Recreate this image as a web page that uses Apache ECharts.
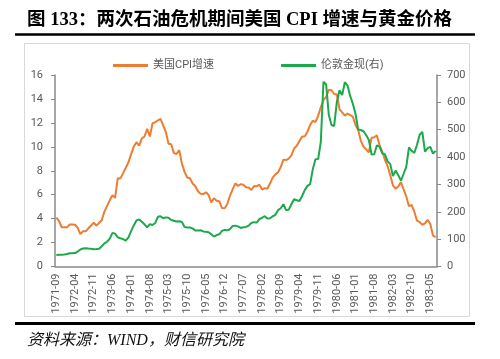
<!DOCTYPE html>
<html>
<head>
<meta charset="utf-8">
<script src="https://cdn.jsdelivr.net/npm/echarts@6/dist/echarts.min.js"></script>
<style>
html,body{margin:0;padding:0;background:#fff;}
#c{width:500px;height:359px;}
</style>
</head>
<body>
<div id="c"></div>
<script>
// Categories: monthly, 1971-09 to 1983-07
const startYear = 1971, startMonth = 9, monthCount = 143;
const categories = [];
for (let i = 0; i < monthCount; i++) {
  const m = startMonth - 1 + i;
  const y = startYear + Math.floor(m / 12);
  const mm = (m % 12) + 1;
  categories.push(y + '-' + (mm < 10 ? '0' + mm : mm));
}

// 美国CPI增速 (%), left axis
const cpi = [
  4.08, 3.8, 3.28, 3.27,
  3.27, 3.51, 3.5, 3.49, 3.23, 2.71, 2.95, 2.94, 3.19, 3.42, 3.67, 3.41,
  3.65, 3.87, 4.59, 5.06, 5.53, 5.96, 5.73, 7.38, 7.36, 7.8, 8.25, 8.71,
  9.39, 10.02, 10.39, 10.09, 10.71, 10.86, 11.51, 10.86, 11.95, 12.06, 12.2, 12.34,
  11.8, 11.23, 10.25, 10.21, 9.47, 9.4, 9.72, 8.6, 7.91, 7.44, 7.38, 6.94,
  6.72, 6.29, 6.07, 6.05, 6.2, 5.97, 5.35, 5.71, 5.49, 5.46, 4.88, 4.86,
  5.22, 5.91, 6.44, 6.95, 6.73, 6.87, 6.83, 6.62, 6.6, 6.39, 6.72, 6.7,
  6.84, 6.43, 6.55, 6.5, 6.95, 7.42, 7.7, 7.86, 8.31, 8.93, 8.89, 9.02,
  9.28, 9.86, 10.09, 10.49, 10.85, 10.89, 11.26, 11.82, 12.18, 12.07, 12.61, 13.29,
  13.91, 14.18, 14.76, 14.73, 14.41, 14.38, 13.13, 12.87, 12.6, 12.77, 12.65, 12.52,
  11.83, 11.41, 10.49, 10.0, 9.78, 9.55, 10.76, 10.8, 10.95, 10.14, 9.59, 8.92,
  8.39, 7.62, 6.78, 6.51, 6.68, 7.06, 6.44, 5.85, 5.04, 5.14, 4.59, 3.83,
  3.71, 3.49, 3.6, 3.9, 3.55, 2.58, 2.46
];

// 伦敦金现 (USD/oz), right axis
const gold = [
  42.0, 42.5, 42.9, 43.5,
  45.7, 48.3, 48.3, 49.0, 54.6, 62.1, 65.7, 67.0, 65.5, 64.9, 62.9, 63.9,
  65.1, 74.2, 84.4, 90.5, 102.0, 123.0, 120.2, 106.8, 103.0, 100.1, 94.8, 106.7,
  129.2, 150.2, 168.4, 172.2, 163.3, 154.1, 142.9, 154.6, 151.8, 158.8, 181.7, 183.9,
  176.3, 179.6, 178.2, 169.9, 167.2, 164.8, 165.1, 163.0, 144.1, 142.8, 142.4, 139.3,
  131.6, 131.4, 132.6, 128.2, 126.6, 125.4, 117.6, 109.6, 114.9, 117.8, 130.3, 133.8,
  132.3, 136.3, 148.3, 149.4, 146.6, 140.8, 143.3, 144.6, 149.5, 158.9, 162.1, 160.5,
  173.2, 178.2, 183.7, 175.1, 176.3, 183.7, 188.8, 206.0, 212.9, 227.4, 206.1, 207.8,
  227.3, 245.7, 242.1, 239.2, 257.6, 279.1, 294.7, 300.8, 355.1, 391.7, 392.5, 455.1,
  675.3, 665.3, 553.6, 517.4, 513.8, 600.7, 644.3, 626.5, 673.6, 661.2, 623.5, 594.9,
  557.4, 500.5, 498.9, 494.5, 479.7, 462.5, 409.3, 410.1, 443.2, 437.8, 413.4, 410.1,
  384.1, 374.2, 330.7, 350.5, 333.9, 314.0, 339.0, 364.3, 435.7, 422.9, 414.9, 444.3,
  481.5, 491.9, 419.8, 432.8, 437.5, 412.8, 422.7
];

const seriesNames = ['美国CPI增速', '伦敦金现(右)'];
const titleText = '图 133：两次石油危机期间美国 CPI 增速与黄金价格';
const sourceText = '资料来源：WIND，财信研究院';

const axisGray = '#898989';
const labelColor = '#595959';
const labelFont = 'Roboto, "Noto Sans CJK SC", sans-serif';

const chart = echarts.init(document.getElementById('c'), null, {renderer: 'canvas'});
chart.setOption({
  backgroundColor: '#ffffff',
  animation: false,
  grid: {left: 55, right: 63, top: 75, bottom: 92.5, containLabel: false},
  legend: {
    data: [
      {name: seriesNames[0], icon: 'rect'},
      {name: seriesNames[1], icon: 'rect'}
    ],
    left: 108, top: 55,
    itemWidth: 35, itemHeight: 3, itemGap: 67,
    textStyle: {fontSize: 11, color: labelColor, fontFamily: labelFont}
  },
  xAxis: {
    type: 'category',
    data: categories,
    boundaryGap: true,
    axisLine: {lineStyle: {color: axisGray, width: 1.5}},
    axisTick: {interval: 6, length: 4, lineStyle: {color: axisGray, width: 1}},
    axisLabel: {interval: 6, rotate: 90, fontSize: 11, color: labelColor, margin: 7, fontFamily: labelFont},
    splitLine: {show: false}
  },
  yAxis: [
    {
      type: 'value', min: 0, max: 16, interval: 2, position: 'left',
      axisLine: {show: true, lineStyle: {color: axisGray, width: 1.5}},
      axisTick: {show: true, length: 4, lineStyle: {color: axisGray}},
      axisLabel: {fontSize: 11, color: labelColor, margin: 12, fontFamily: labelFont},
      splitLine: {show: false}
    },
    {
      type: 'value', min: 0, max: 700, interval: 100, position: 'right',
      axisLine: {show: true, lineStyle: {color: axisGray, width: 1.5}},
      axisTick: {show: true, length: 4, lineStyle: {color: axisGray}},
      axisLabel: {fontSize: 11, color: labelColor, margin: 10, fontFamily: labelFont},
      splitLine: {show: false}
    }
  ],
  series: [
    {
      name: seriesNames[0], type: 'line', data: cpi, yAxisIndex: 0,
      symbol: 'none', color: '#ED7D31',
      lineStyle: {width: 2, color: '#ED7D31'}, z: 2
    },
    {
      name: seriesNames[1], type: 'line', data: gold, yAxisIndex: 1,
      symbol: 'none', color: '#1BA94C',
      lineStyle: {width: 2, color: '#1BA94C'}, z: 3
    }
  ],
  graphic: [
    {
      type: 'text', x: 27, y: 20, z: 10,
      style: {
        text: titleText, fill: '#000',
        fontSize: 18.5, fontWeight: 'bold',
        fontFamily: '"Liberation Serif", "Noto Sans CJK SC", serif',
        verticalAlign: 'middle', align: 'left'
      }
    },
    {
      type: 'line', z: 10,
      shape: {x1: 15, y1: 34.5, x2: 475, y2: 34.5},
      style: {stroke: '#000', lineWidth: 2.5}
    },
    {
      type: 'rect', z: 0,
      shape: {x: 24.5, y: 43.5, width: 445, height: 273},
      style: {stroke: '#D9D9D9', lineWidth: 1, fill: 'none'}
    },
    {
      type: 'line', z: 10,
      shape: {x1: 15, y1: 323.5, x2: 475, y2: 323.5},
      style: {stroke: '#000', lineWidth: 3}
    },
    {
      type: 'text', x: 27, y: 341, z: 10,
      style: {
        text: sourceText, fill: '#111',
        fontSize: 16, fontStyle: 'italic',
        fontFamily: '"Liberation Serif", "Noto Sans CJK SC", serif',
        verticalAlign: 'middle', align: 'left'
      }
    }
  ]
});
</script>
</body>
</html>
